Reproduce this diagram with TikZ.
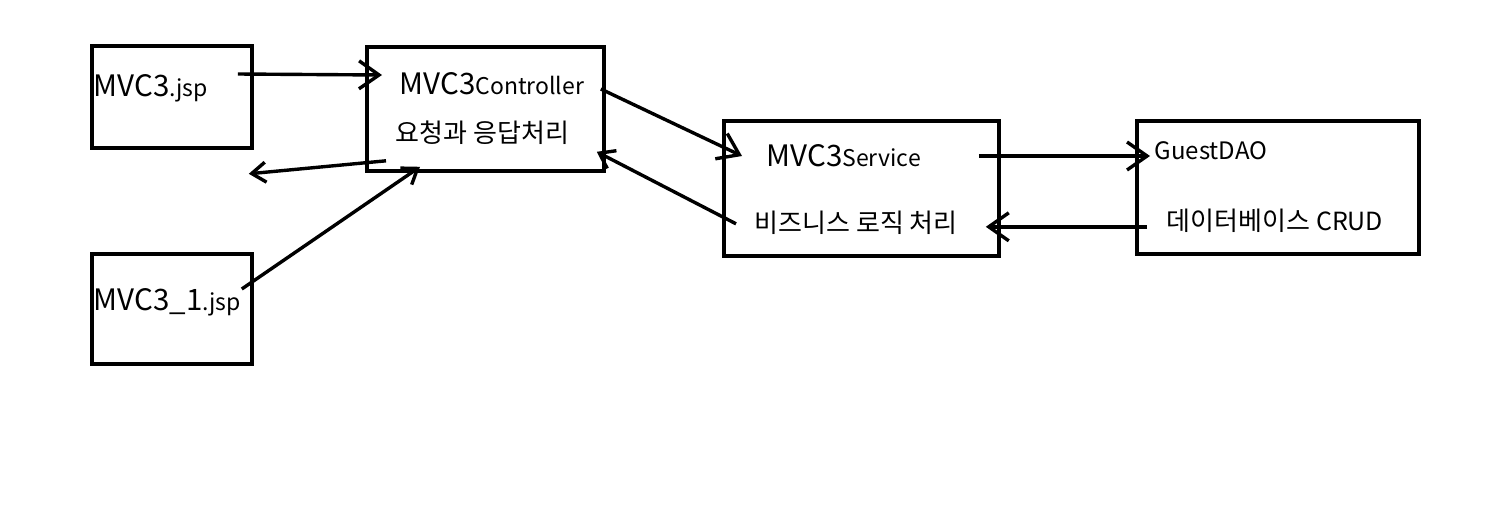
\documentclass[tikz,border=0pt]{standalone}
\usepackage{fontspec}
\setmainfont{Noto Sans CJK KR}
\usetikzlibrary{arrows.meta,positioning}
\newcommand\mvcbig{\fontsize{29.5}{32}\selectfont}
\newcommand\mvcsmall{\fontsize{23}{26}\selectfont}
\newcommand\krtext{\fontsize{26}{30}\selectfont}

\begin{document}
\begin{tikzpicture}[x=1pt,y=-1pt,->,>={Straight Barb[length=20pt,width=28pt]},
                    line width=3.4pt]
\tikzstyle{box}=[draw=black,line width=3.8pt,anchor=north west,inner sep=0pt]
\tikzstyle{label}=[anchor=base west,inner sep=0pt,text=black]
\tikzstyle{small tip}=[>={Straight Barb[length=14pt,width=20pt]}]
\useasboundingbox (0,0) rectangle (1496,520);
% boxes
\node[box,minimum width=160pt,minimum height=102pt] (jspbox)  at (90,44)   {};
\node[box,minimum width=160pt,minimum height=110pt] (jsp1box) at (90,252)  {};
\node[box,minimum width=237pt,minimum height=124pt] (ctrlbox) at (365,45)  {};
\node[box,minimum width=275pt,minimum height=135pt] (svcbox)  at (722,119) {};
\node[box,minimum width=282pt,minimum height=133pt] (daobox)  at (1135,119) {};
% texts
\node[label] (jsp)   at (92,96)    {\mvcbig MVC3\mvcsmall.jsp};
\node[label] (jsp1)  at (92,310)   {\mvcbig MVC3\_1\mvcsmall.jsp};
\node[label] (ctrl)  at (398,94)   {\mvcbig MVC3\mvcsmall Controller};
\node[label] (ctrlk) at (394,142)  {\krtext 요청과 응답처리};
\node[label] (svc)   at (765,166)  {\mvcbig MVC3\mvcsmall Service};
\node[label] (svck)  at (753,232)  {\krtext 비즈니스 로직 처리};
\node[label] (dao)   at (1153,159) {\fontsize{24}{28}\selectfont GuestDAO};
\node[label] (daok)  at (1165,230) {\krtext 데이터베이스 \fontsize{25}{28}\selectfont CRUD};
% connectors
\draw ([shift={(-16,30)}]jspbox.north east) -- ([shift={(17,30)}]ctrlbox.north west);
\draw[small tip] ([shift={(21,-12)}]ctrlbox.south west) -- ([shift={(-5,24)}]jspbox.south east);
\draw[small tip] ([shift={(-12,37)}]jsp1box.north east) -- ([shift={(55,-6)}]ctrlbox.south west);
\draw ([shift={(-5,44)}]ctrlbox.north east) -- ([shift={(20,37)}]svcbox.north west);
\draw[small tip] ([shift={(14,-34)}]svcbox.south west) -- ([shift={(-9,-21)}]ctrlbox.south east);
\draw ([shift={(-22,37)}]svcbox.north east) -- ([shift={(15,37)}]daobox.north west);
\draw ([shift={(12,-29)}]daobox.south west) -- ([shift={(-15,-31)}]svcbox.south east);
\end{tikzpicture}
\end{document}
